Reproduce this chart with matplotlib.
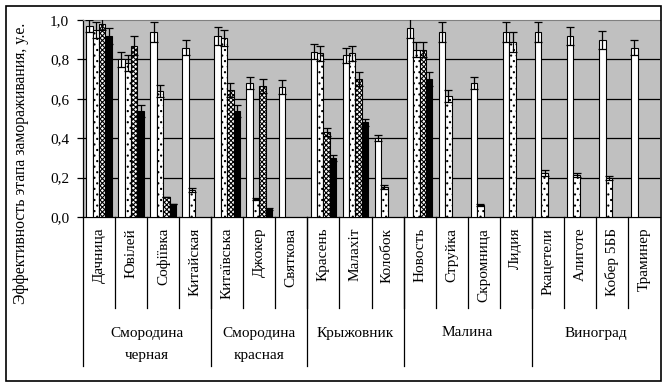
import matplotlib as mpl
import matplotlib.pyplot as plt
from matplotlib.patches import Rectangle
import numpy as np

plt.rcParams['font.family'] = ['Liberation Serif', 'DejaVu Serif']
plt.rcParams['hatch.linewidth'] = 0.8

varieties = ['Дачница', 'Ювілей', 'Софіївка', 'Китайская',
             'Китаївська', 'Джокер', 'Святкова',
             'Красень', 'Малахіт', 'Колобок',
             'Новость', 'Струйка', 'Скромница', 'Лидия',
             'Ркацетели', 'Алиготе', 'Кобер 5ББ', 'Траминер']
groups = ['Смородина\nчерная', 'Смородина\nкрасная', 'Крыжовник', 'Малина', 'Виноград']
group_sizes = [4, 3, 3, 4, 4]

nan = np.nan
s1 = [0.97, 0.80, 0.94, 0.86, 0.92, 0.68, 0.66, 0.84, 0.82, 0.40, 0.96, 0.94, 0.68, 0.94, 0.94, 0.92, 0.90, 0.86]
s1_err = [0.03, 0.04, 0.05, 0.04, 0.045, 0.03, 0.035, 0.04, 0.04, 0.015, 0.05, 0.05, 0.03, 0.05, 0.05, 0.045, 0.045, 0.04]
s2 = [0.95, 0.78, 0.64, 0.135, 0.91, 0.09, nan, 0.83, 0.83, 0.15, 0.85, 0.615, 0.06, 0.89, 0.225, 0.215, 0.20, nan]
s2_err = [0.04, 0.04, 0.03, 0.01, 0.04, 0.005, nan, 0.04, 0.04, 0.01, 0.04, 0.03, 0.005, 0.05, 0.015, 0.01, 0.01, nan]
s3 = [0.98, 0.87, 0.10, nan, 0.645, 0.665, nan, 0.43, 0.70, nan, 0.85, nan, nan, nan, nan, nan, nan, nan]
s3_err = [0.03, 0.05, 0.0, nan, 0.035, 0.035, nan, 0.02, 0.035, nan, 0.04, nan, nan, nan, nan, nan, nan, nan]
s4 = [0.92, 0.54, 0.065, nan, 0.54, 0.04, nan, 0.30, 0.48, nan, 0.70, nan, nan, nan, nan, nan, nan, nan]
s4_err = [0.04, 0.03, 0.0, nan, 0.03, 0.005, nan, 0.015, 0.02, nan, 0.035, nan, nan, nan, nan, nan, nan, nan]

W, H = 667, 386
fig = plt.figure(figsize=(W / 100, H / 100), dpi=100)
ax = fig.add_axes([83 / W, 1 - 217 / H, (660 - 83) / W, (217 - 20) / H])
ax.set_facecolor('#c0c0c0')

x = np.arange(len(varieties))
bw = 0.2
styles = [dict(color='white', hatch=None),
          dict(color='white', hatch='...'),
          dict(color='white', hatch='xxxxxxx'),
          dict(color='black', hatch=None)]
for k, (vals, errs) in enumerate([(s1, s1_err), (s2, s2_err), (s3, s3_err), (s4, s4_err)]):
    pos = x + (k - 1.5) * bw
    ax.bar(pos, vals, bw, facecolor=styles[k]['color'], edgecolor='black',
           hatch=styles[k]['hatch'], linewidth=0.8, zorder=3)
    ax.errorbar(pos, vals, yerr=errs, fmt='none', ecolor='black',
                elinewidth=0.9, capsize=3, capthick=0.9, zorder=4)

ax.set_xlim(-0.5, len(varieties) - 0.5)
ax.set_ylim(0, 1.0)
ax.set_yticks([0, 0.2, 0.4, 0.6, 0.8, 1.0])
ax.set_yticklabels(['0,0', '0,2', '0,4', '0,6', '0,8', '1,0'])
ax.tick_params(axis='y', direction='out', length=4, width=0.9, labelsize=11, pad=6)
ax.set_xticks([])
for yv in [0.2, 0.4, 0.6, 0.8]:
    ax.axhline(yv, color='black', linewidth=0.9, zorder=1)
ax.spines['top'].set_color('#808080')
ax.spines['right'].set_visible(False)
ax.spines['left'].set_linewidth(0.9)
ax.spines['bottom'].set_linewidth(0.9)

fig.text(21 / W, 1 - 163 / H, 'Эффективность этапа замораживания, у.е.',
         rotation=90, ha='center', va='center', fontsize=11.3)

tr = ax.get_xaxis_transform()
# category labels and separators
for i, name in enumerate(varieties):
    ax.text(i, -0.055, name, rotation=90, ha='center', va='top', fontsize=11,
            transform=tr)
for b in range(1, len(varieties)):
    ax.plot([b - 0.5, b - 0.5], [0, -0.462], color='black', lw=0.9,
            transform=tr, clip_on=False)
# group labels and separators
start = 0
bounds = [-0.5]
for g, n in zip(groups, group_sizes):
    center = start + (n - 1) / 2
    for j, line in enumerate(g.split('\n')):
        ax.text(center, (217 - 333 - 22 * j) / 197, line, ha='center', va='center',
                fontsize=11, transform=tr)
    start += n
    bounds.append(start - 0.5)
for b in bounds[:-1]:
    ax.plot([b, b], [0, -0.756], color='black', lw=0.9, transform=tr, clip_on=False)

fig.patches.append(Rectangle((6 / W, 1 - 381 / H), 655 / W, 375 / H, fill=False,
                             edgecolor='black', linewidth=1.2,
                             transform=fig.transFigure))

fig.savefig('out.png', dpi=100)
